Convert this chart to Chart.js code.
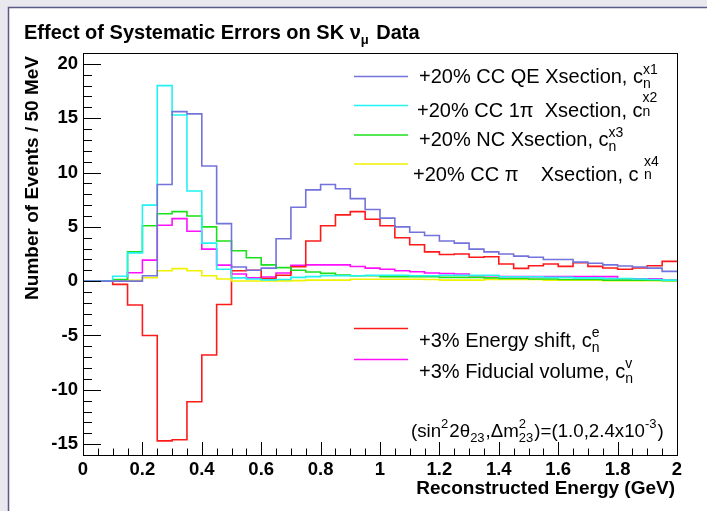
<!DOCTYPE html>
<html>
<head>
<meta charset="utf-8">
<script src="https://cdn.jsdelivr.net/npm/chart.js@4.4.1/dist/chart.umd.min.js"></script>
<style>
html,body{margin:0;padding:0;background:#e8e8ee;}
#wrap{width:707px;height:511px;position:relative;}
canvas{display:block;}
</style>
</head>
<body>
<div id="wrap"><canvas id="c" width="707" height="511"></canvas></div>
<script>
// ---- data (bins of 50 MeV, low edges + final upper edge) ----
const binEdges = [0,0.05,0.1,0.15,0.2,0.25,0.3,0.35,0.4,0.45,0.5,0.55,0.6,0.65,0.7,0.75,0.8,0.85,0.9,0.95,
  1.0,1.05,1.1,1.15,1.2,1.25,1.3,1.35,1.4,1.45,1.5,1.55,1.6,1.65,1.7,1.75,1.8,1.85,1.9,1.95,2.0];

const ccqe = [0,0,0,0,0.5,8.9,15.6,15.4,10.6,5.3,1.3,1.0,1.2,3.9,6.8,8.4,8.9,8.5,7.6,6.6,
  5.8,5.0,4.5,4.2,3.7,3.5,2.95,2.7,2.5,2.3,2.2,2.0,2.0,1.75,1.65,1.5,1.4,1.3,1.2,0.9];
const cc1pi = [0,0,0.45,2.6,7.0,18.0,15.3,8.3,3.5,1.1,0.3,0.2,0.12,0.15,0.35,0.42,0.5,0.5,0.5,0.55,
  0.55,0.55,0.5,0.5,0.55,0.55,0.55,0.55,0.4,0.4,0.4,0.35,0.35,0.3,0.3,0.25,0.25,0.2,0.15,0.1];
const ncx = [0,0,0.15,2.7,5.1,6.2,6.4,6.0,5.0,3.7,2.8,2.15,1.5,1.25,1.0,0.85,0.72,0.57,0.5,0.5,
  0.42,0.42,0.42,0.42,0.35,0.35,0.35,0.3,0.25,0.25,0.2,0.2,0.15,0.15,0.15,0.1,0.1,0.1,0.1,0.05];
const ccpi = [0,0,0,0.07,0.32,0.96,1.15,0.96,0.5,0.2,0.02,0.02,0.02,0.03,0.05,0.1,0.1,0.1,0.18,0.18,
  0.18,0.18,0.18,0.15,0.1,0.1,0.1,0.15,0.15,0.15,0.15,0.1,0.1,0.1,0.1,0.05,0.05,0.05,0.05,0.05];
const eshift = [0,0,-0.3,-2.2,-5.0,-14.7,-14.6,-11.1,-6.8,-2.15,0.96,1.0,0.25,0.55,1.33,3.7,5.1,6.1,6.4,5.7,
  5.1,4.0,3.35,2.7,2.45,2.5,2.2,2.25,1.58,1.18,1.42,1.58,1.36,1.7,1.36,1.21,1.09,1.21,1.42,1.82];
const fidvol = [0,0,0.05,0.78,1.94,5.15,5.76,4.6,2.95,1.48,0.66,0.3,0.38,0.75,1.45,1.5,1.5,1.5,1.35,1.2,
  1.1,0.96,0.87,0.75,0.7,0.66,0.5,0.5,0.42,0.42,0.42,0.42,0.42,0.42,0.42,0.42,0.22,0.22,0.22,0.1];

const xTickLabels = [0,0.2,0.4,0.6,0.8,1,1.2,1.4,1.6,1.8,2];
const yTickLabels = [-15,-10,-5,0,5,10,15,20];

const seriesNames = ['CC QE','CC 1pi','NC','CC pi','Energy shift','Fiducial volume'];
const seriesColors = ['#7373dc','#22f2f2','#1de01d','#f2f200','#ff1a1a','#ff10ff'];
const seriesValues = [ccqe, cc1pi, ncx, ccpi, eshift, fidvol];

function histPoints(vals){
  return binEdges.map((x,i)=>({x:x, y: vals[Math.min(i, vals.length-1)]}));
}

const FONT = '"Liberation Sans", Arial, Helvetica, sans-serif';

function drawRich(ctx, x, y, parts, size){
  ctx.textAlign='left'; ctx.textBaseline='alphabetic';
  const small = Math.round(size*0.7);
  for(const p of parts){
    if(typeof p === 'string'){
      ctx.font = size+'px '+FONT;
      ctx.fillText(p, x, y);
      x += ctx.measureText(p).width;
    } else {
      ctx.font = small+'px '+FONT;
      let w = 0;
      if(p.sup!==undefined){
        ctx.fillText(p.sup, x, y - (p.supDy!==undefined?p.supDy:size*0.45));
        w = Math.max(w, ctx.measureText(p.sup).width);
      }
      if(p.sub!==undefined){
        ctx.fillText(p.sub, x + (p.subDx||0), y + (p.subDy!==undefined?p.subDy:size*0.28));
        w = Math.max(w, ctx.measureText(p.sub).width + (p.subDx||0));
      }
      x += w + 1;
    }
  }
}

const decor = {
  id:'decor',
  beforeDraw(chart){
    const ctx = chart.ctx;
    ctx.save();
    ctx.fillStyle='#e8e8ee';
    ctx.fillRect(0,0,707,511);
    ctx.fillStyle='#ffffff';
    ctx.fillRect(8,7,699,504);
    ctx.strokeStyle='#5a5a86';
    ctx.lineWidth=1.5;
    ctx.beginPath();
    ctx.moveTo(8.5,511); ctx.lineTo(8.5,7.5); ctx.lineTo(707,7.5);
    ctx.stroke();
    ctx.restore();
  },
  afterDatasetsDraw(chart){
    const ctx = chart.ctx, a = chart.chartArea;
    const xs = chart.scales.x, ys = chart.scales.y;
    ctx.save();
    ctx.strokeStyle='#000'; ctx.lineWidth=1;
    ctx.strokeRect(Math.round(a.left)+0.5, Math.round(a.top)+0.5, Math.round(a.right-a.left), Math.round(a.bottom-a.top));
    ctx.beginPath();
    for(let v=-16; v<=21; v++){
      const py = Math.round(ys.getPixelForValue(v))+0.5;
      if(py < a.top+1 || py > a.bottom-1) continue;
      const len = (v%5===0)?18:9;
      ctx.moveTo(a.left, py); ctx.lineTo(a.left+len, py);
    }
    for(let i=0;i<binEdges.length;i++){
      const px = Math.round(xs.getPixelForValue(binEdges[i]))+0.5;
      const len = (i%4===0)?13:6.5;
      ctx.moveTo(px, a.bottom); ctx.lineTo(px, a.bottom-len);
    }
    ctx.stroke();
    ctx.restore();
  },
  afterDraw(chart){
    const ctx = chart.ctx;
    ctx.save();
    ctx.fillStyle='#000';
    ctx.font='bold 20px '+FONT;
    ctx.textAlign='left'; ctx.textBaseline='alphabetic';
    const t1='Effect of Systematic Errors on SK \u03bd';
    ctx.fillText(t1, 24, 39);
    let tx = 24 + ctx.measureText(t1).width;
    ctx.font='bold 13px '+FONT;
    ctx.fillText('\u03bc', tx, 44);
    tx += ctx.measureText('\u03bc').width + 2;
    ctx.font='bold 20px '+FONT;
    ctx.fillText(' Data', tx, 39);
    ctx.font='bold 19px '+FONT;
    ctx.textAlign='right';
    ctx.fillText('Reconstructed Energy (GeV)', 675, 494);
    ctx.save();
    ctx.translate(38, 56);
    ctx.rotate(-Math.PI/2);
    ctx.textAlign='right';
    ctx.fillText('Number of Events / 50 MeV', 0, 0);
    ctx.restore();
    const legLines = [[0,76.5],[1,105.5],[2,135],[3,164],[4,328.5],[5,359.5]];
    ctx.lineWidth=1.5;
    for(const [i,y] of legLines){
      ctx.strokeStyle = seriesColors[i];
      ctx.beginPath(); ctx.moveTo(354,y); ctx.lineTo(408,y); ctx.stroke();
    }
    ctx.fillStyle='#000';
    const S=20;
    drawRich(ctx, 419, 83, ['+20% CC QE Xsection, c',{sup:'x1',sub:'n',supDy:9,subDy:5}], S);
    drawRich(ctx, 417, 116.5, ['+20% CC 1\u03c0  Xsection, c',{sup:'x2',sub:'n',supDy:15,subDy:-1}], S);
    drawRich(ctx, 419, 145.5, ['+20% NC Xsection, c',{sup:'x3',sub:'n',supDy:9,subDy:5}], S);
    drawRich(ctx, 413, 180.5, ['+20% CC \u03c0    Xsection, c ',{sup:'x4',sub:'n',supDy:15,subDy:-2}], S);
    drawRich(ctx, 419, 346.5, ['+3% Energy shift, c',{sup:'e',sub:'n',supDy:10,subDy:5}], S);
    drawRich(ctx, 419, 377.5, ['+3% Fiducial volume, c',{sup:'v',sub:'n',supDy:10,subDy:5}], S);
    drawRich(ctx, 411, 436.5, ['(sin',{sup:'2',supDy:9},'2\u03b8',{sub:'23',subDy:5},',\u0394m',{sup:'2',sub:'23',supDy:9,subDy:5},')=(1.0,2.4x10',{sup:'-3',supDy:9},')'], 18.7);
    ctx.restore();
  }
};

const datasets = seriesValues.map((vals,i)=>({
  label: seriesNames[i],
  data: histPoints(vals),
  borderColor: seriesColors[i],
  backgroundColor: seriesColors[i],
  borderWidth: 1.6,
  pointRadius: 0,
  stepped: 'before',
  fill: false,
  tension: 0
}));

new Chart(document.getElementById('c'), {
  type:'line',
  data:{datasets},
  options:{
    responsive:false,
    animation:false,
    devicePixelRatio:1,
    layout:{padding:{left:0,right:30,top:53,bottom:0}},
    plugins:{legend:{display:false},title:{display:false},tooltip:{enabled:false}},
    scales:{
      x:{
        type:'linear', min:0, max:2,
        grid:{display:false, drawTicks:false, tickLength:0},
        border:{display:false},
        afterBuildTicks(s){ s.ticks = xTickLabels.map(v=>({value:v})); },
        afterFit(s){ s.height = 56; },
        ticks:{color:'#000', padding:4, maxRotation:0, autoSkip:false,
          font:{family:FONT, size:18.5, weight:'bold'},
          callback:(v)=>String(v)}
      },
      y:{
        type:'linear', min:-16, max:21,
        grid:{display:false, drawTicks:false, tickLength:0},
        border:{display:false},
        afterBuildTicks(s){ s.ticks = yTickLabels.map(v=>({value:v})); },
        afterFit(s){ s.width = 83; },
        ticks:{color:'#000', padding:5, autoSkip:false,
          font:{family:FONT, size:18.5, weight:'bold'},
          callback:(v)=>String(v)}
      }
    }
  },
  plugins:[decor]
});
</script>
</body>
</html>
